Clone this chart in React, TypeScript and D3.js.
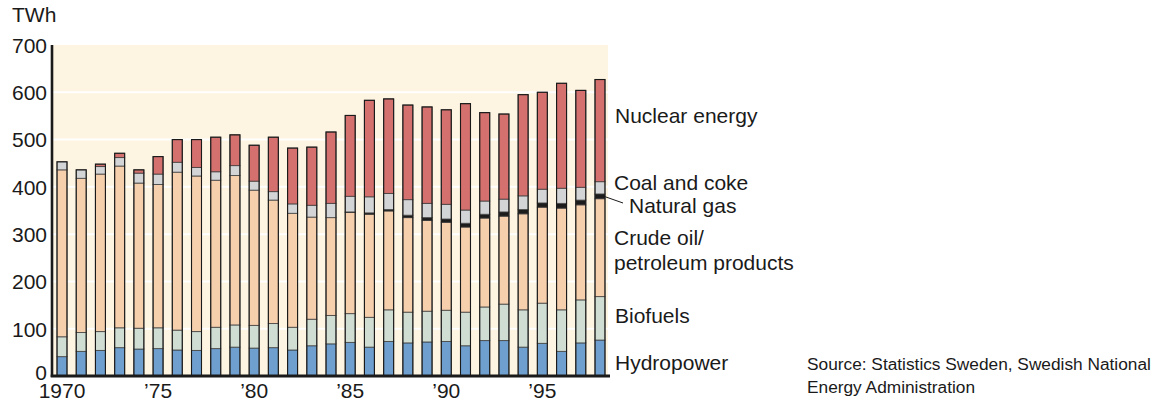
import React, { useEffect, useRef } from "react";
import * as d3 from "d3";

// Swedish total energy supply by source, TWh
const years = d3.range(1970, 1999);
const hydropower = [41, 52, 54, 60, 57, 58, 55, 54, 58, 61, 59, 60, 55, 64, 68, 71, 61, 73, 70, 72, 73, 64, 75, 75, 61, 69, 52, 70, 76];
const biofuels = [42, 40, 40, 42, 44, 44, 42, 40, 45, 47, 48, 51, 48, 56, 60, 61, 63, 67, 65, 65, 66, 71, 71, 77, 79, 85, 88, 91, 92];
const crudeOil = [353, 326, 333, 342, 307, 303, 334, 329, 311, 316, 286, 261, 241, 216, 207, 214, 218, 209, 200, 192, 186, 180, 188, 186, 203, 203, 215, 201, 207];
const naturalGas = [0, 0, 0, 0, 0, 0, 0, 0, 0, 0, 0, 0, 0, 0, 0, 1, 3, 3, 5, 6, 7, 8, 8, 9, 9, 9, 10, 10, 10];
const coalCoke = [17, 18, 16, 18, 21, 22, 21, 18, 18, 21, 19, 18, 20, 25, 30, 33, 34, 34, 33, 30, 31, 28, 28, 27, 29, 29, 32, 27, 26];
const nuclear = [0, 0, 5, 9, 7, 37, 48, 59, 73, 65, 76, 115, 118, 123, 151, 171, 204, 200, 200, 204, 200, 225, 187, 180, 214, 205, 222, 205, 216];

const yTicks = [0, 100, 200, 300, 400, 500, 600, 700];
const xTickYears = [1970, 1975, 1980, 1985, 1990, 1995];
const xTickLabel = (y: number) => (y === 1970 ? "1970" : "\u2019" + String(y).slice(2));

const keys = ["hydro", "bio", "oil", "gas", "coal", "nuclear"];
const colors: Record<string, string> = {
  hydro: "#6e9fcf",
  bio: "#cfddd3",
  oil: "#f6cfad",
  gas: "#1c1c1c",
  coal: "#d3d4d6",
  nuclear: "#d4706d",
};

const labels = [
  { text: "Nuclear energy", x: 615, y: 123 },
  { text: "Coal and coke", x: 614, y: 190 },
  { text: "Natural gas", x: 629, y: 213 },
  { text: "Crude oil/", x: 614, y: 245 },
  { text: "petroleum products", x: 614, y: 270 },
  { text: "Biofuels", x: 615, y: 323 },
  { text: "Hydropower", x: 615, y: 370 },
];

const App = () => {
  const ref = useRef<SVGSVGElement>(null);

  useEffect(() => {
    if (!ref.current) return;
    const svg = d3.select(ref.current);
    svg.selectAll("*").remove();

    const font = "'Liberation Sans', Arial, sans-serif";
    const rows = years.map((yr, i) => ({
      year: yr,
      hydro: hydropower[i],
      bio: biofuels[i],
      oil: crudeOil[i],
      gas: naturalGas[i],
      coal: coalCoke[i],
      nuclear: nuclear[i],
    }));
    const total = (d: any) => d.hydro + d.bio + d.oil + d.gas + d.coal + d.nuclear;

    const x = d3
      .scaleBand<number>()
      .domain(years)
      .range([52.4, 609.6])
      .paddingInner(0.48)
      .paddingOuter(0.24);
    const y = d3.scaleLinear().domain([0, 700]).range([376, 45]);

    // plot background
    svg
      .append("rect")
      .attr("x", 53)
      .attr("y", y(700))
      .attr("width", 555)
      .attr("height", y(0) - y(700))
      .attr("fill", "#fdf4e1");

    // white gridlines
    svg
      .append("g")
      .selectAll("line")
      .data(yTicks.filter((t) => t > 0 && t < 700))
      .enter()
      .append("line")
      .attr("x1", 53)
      .attr("x2", 608)
      .attr("y1", (d) => y(d))
      .attr("y2", (d) => y(d))
      .attr("stroke", "#ffffff")
      .attr("stroke-width", 2);

    // stacked bars
    const series = d3.stack<any>().keys(keys)(rows);
    svg
      .append("g")
      .selectAll("g")
      .data(series)
      .enter()
      .append("g")
      .attr("fill", (s) => colors[s.key])
      .selectAll("rect")
      .data((s) => s.filter((d) => d[1] - d[0] > 0))
      .enter()
      .append("rect")
      .attr("x", (d) => x(d.data.year)!)
      .attr("width", x.bandwidth())
      .attr("y", (d) => y(d[1]))
      .attr("height", (d) => y(d[0]) - y(d[1]))
      .attr("stroke", "#3a3a3a")
      .attr("stroke-opacity", 0.75)
      .attr("stroke-width", 1);

    // bar outlines
    svg
      .append("g")
      .selectAll("rect")
      .data(rows)
      .enter()
      .append("rect")
      .attr("x", (d) => x(d.year)!)
      .attr("width", x.bandwidth())
      .attr("y", (d) => y(total(d)))
      .attr("height", (d) => y(0) - y(total(d)))
      .attr("fill", "none")
      .attr("stroke", "#1a1a1a")
      .attr("stroke-width", 1.1);

    // axes
    svg
      .append("line")
      .attr("x1", 52)
      .attr("x2", 52)
      .attr("y1", y(700))
      .attr("y2", y(0) + 1)
      .attr("stroke", "#1a1a1a")
      .attr("stroke-width", 2.6);
    svg
      .append("line")
      .attr("x1", 50.7)
      .attr("x2", 610)
      .attr("y1", y(0))
      .attr("y2", y(0))
      .attr("stroke", "#1a1a1a")
      .attr("stroke-width", 3);

    // y tick labels (the zero sits a little higher, clear of the axis)
    svg
      .append("g")
      .selectAll("text")
      .data(yTicks)
      .enter()
      .append("text")
      .attr("x", 47)
      .attr("y", (d) => (d === 0 ? y(d) + 4 : y(d) + 7.8))
      .attr("text-anchor", "end")
      .attr("font-family", font)
      .attr("font-size", 21)
      .attr("fill", "#1a1a1a")
      .text((d) => d);

    // x tick labels
    svg
      .append("g")
      .selectAll("text")
      .data(xTickYears)
      .enter()
      .append("text")
      .attr("x", (d) => x(d)! + x.bandwidth() / 2)
      .attr("y", 398)
      .attr("text-anchor", "middle")
      .attr("font-family", font)
      .attr("font-size", 21)
      .attr("fill", "#1a1a1a")
      .text(xTickLabel);

    svg
      .append("text")
      .attr("x", 12)
      .attr("y", 22)
      .attr("font-family", font)
      .attr("font-size", 21)
      .attr("fill", "#1a1a1a")
      .text("TWh");

    // series labels on the right
    svg
      .append("g")
      .selectAll("text")
      .data(labels)
      .enter()
      .append("text")
      .attr("x", (d) => d.x)
      .attr("y", (d) => d.y)
      .attr("font-family", font)
      .attr("font-size", 21)
      .attr("fill", "#1a1a1a")
      .text((d) => d.text);

    // leader line from the natural gas band of the last bar
    const last = rows[rows.length - 1];
    const gasMid = last.hydro + last.bio + last.oil + last.gas / 2;
    svg
      .append("line")
      .attr("x1", x(last.year)! + x.bandwidth() - 1)
      .attr("y1", y(gasMid))
      .attr("x2", 623)
      .attr("y2", 203)
      .attr("stroke", "#1a1a1a")
      .attr("stroke-width", 1);

    // source note
    svg
      .append("g")
      .selectAll("text")
      .data(["Source: Statistics Sweden, Swedish National", "Energy Administration"])
      .enter()
      .append("text")
      .attr("x", 807)
      .attr("y", (d, i) => 370 + i * 23)
      .attr("font-family", font)
      .attr("font-size", 17.3)
      .attr("fill", "#1a1a1a")
      .text((d) => d);
  }, []);

  return (
    <svg
      ref={ref}
      width={1155}
      height={402}
      style={{ position: "absolute", left: 0, top: 0, background: "#ffffff" }}
    />
  );
};

export default App;
